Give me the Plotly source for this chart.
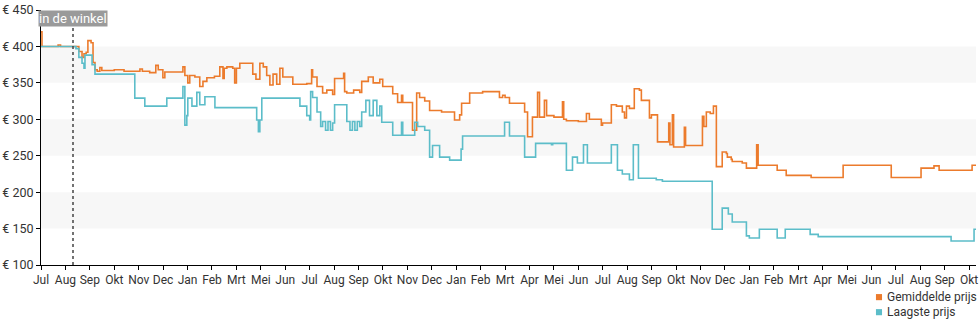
import plotly.graph_objects as go

# x positions are in months since the first tick (Jul)
month_labels = ["Jul", "Aug", "Sep", "Okt", "Nov", "Dec", "Jan", "Feb", "Mrt", "Mei", "Jun",
                "Jul", "Aug", "Sep", "Okt", "Nov", "Dec", "Jan", "Feb", "Mrt", "Apr", "Mei", "Jun",
                "Jul", "Aug", "Sep", "Okt", "Nov", "Dec", "Jan", "Feb", "Mrt", "Apr", "Mei", "Jun",
                "Jul", "Aug", "Sep", "Okt"]
month_ticks = list(range(len(month_labels)))

price_ticks = [100, 150, 200, 250, 300, 350, 400, 450]
price_labels = ["€ 100", "€ 150", "€ 200", "€ 250", "€ 300", "€ 350", "€ 400", "€ 450"]

avg_x = [0.00, 0.04, 0.70, 0.80, 1.43, 1.55, 1.68, 1.76, 1.85, 1.92, 2.05, 2.13, 2.21, 2.30,
         2.41, 2.49, 3.00, 3.40, 4.05, 4.15, 4.45, 4.70, 4.80, 4.99, 5.07, 5.81, 5.89, 6.01,
         6.09, 6.30, 6.50, 6.63, 6.79, 7.10, 7.32, 7.45, 7.50, 7.61, 7.85, 7.93, 8.00, 8.14,
         8.67, 8.80, 8.96, 9.10, 9.24, 9.37, 9.50, 9.65, 9.78, 9.90, 10.31, 10.88, 11.08, 11.12,
         11.30, 11.53, 11.70, 11.94, 12.02, 12.39, 12.43, 12.52, 12.80, 13.05, 13.13, 13.40,
         13.60, 13.87, 13.99, 14.40, 14.60, 14.76, 14.81, 15.21, 15.38, 15.50, 15.71, 15.91,
         16.40, 16.93, 17.14, 17.22, 17.55, 18.08, 18.24, 18.77, 18.90, 19.00, 19.18, 19.80,
         19.92, 20.12, 20.33, 20.41, 20.61, 20.70, 21.00, 21.35, 21.40, 21.51, 22.00, 22.33,
         22.45, 22.94, 22.99, 23.35, 23.56, 23.80, 23.89, 23.97, 24.09, 24.29, 24.50, 24.58,
         24.79, 24.91, 24.99, 25.24, 25.70, 25.75, 25.85, 25.90, 26.34, 26.39, 27.08, 27.14,
         27.24, 27.40, 27.53, 27.65, 27.89, 28.06, 28.10, 28.26, 28.30, 28.71, 28.88, 29.30,
         29.36, 30.14, 30.51, 31.53, 32.84, 34.81, 36.03, 36.56, 36.77, 38.12, 38.28]
avg_y = [420, 400, 402, 400, 400, 393, 385, 390, 392, 408, 405, 378, 368, 366,
         371, 367, 368, 366, 369, 366, 364, 374, 368, 357, 365, 372, 360, 350,
         360, 358, 345, 352, 357, 359, 372, 356, 370, 372, 370, 350, 370, 377,
         362, 355, 377, 372, 360, 347, 362, 348, 370, 358, 348, 349, 368, 358,
         345, 336, 340, 334, 356, 363, 338, 336, 340, 337, 352, 358,
         350, 355, 345, 335, 323, 333, 323, 285, 336, 330, 325, 312,
         310, 299, 306, 322, 336, 338, 338, 330, 333, 330, 322, 310,
         276, 303, 337, 303, 326, 305, 303, 324, 300, 298, 297, 308,
         300, 292, 295, 320, 318, 310, 302, 318, 315, 342, 340, 326,
         326, 302, 306, 269, 295, 265, 306, 262, 289, 264, 304, 290,
         310, 308, 318, 235, 255, 253, 248, 245, 242, 240, 233, 265,
         237, 230, 223, 220, 237, 220, 233, 236, 230, 237, 237]

low_x = [0.00, 1.43, 1.55, 1.68, 1.76, 1.80, 2.09, 2.21, 3.84, 4.25, 5.15, 5.81, 5.89, 5.97,
         6.01, 6.18, 6.38, 6.50, 6.71, 7.12, 8.83, 8.90, 8.96, 9.04, 10.31, 10.60, 10.88, 11.00,
         11.04, 11.12, 11.30, 11.45, 11.53, 11.65, 11.75, 11.85, 11.94, 12.02, 12.45, 12.52,
         12.65, 12.75, 12.85, 12.95, 13.05, 13.13, 13.30, 13.45, 13.60, 13.75, 13.87, 13.95,
         14.40, 14.76, 14.81, 15.30, 15.42, 15.71, 15.91, 16.03, 16.32, 16.73, 17.20, 17.26,
         18.98, 19.18, 19.80, 20.25, 20.90, 20.95, 21.51, 21.76, 21.96, 22.21, 22.37, 23.35,
         23.60, 23.80, 24.09, 24.25, 24.46, 25.19, 25.44, 27.48, 27.89, 28.14, 28.30, 28.88,
         29.00, 29.41, 30.14, 30.47, 31.49, 31.82, 37.26, 38.20, 38.28]
low_y = [400, 397, 385, 377, 370, 388, 375, 362, 329, 318, 329, 345, 292, 305,
         329, 318, 337, 320, 331, 316, 299, 283, 299, 329, 329, 318, 305, 299,
         338, 330, 310, 290, 297, 285, 297, 285, 295, 320, 320, 297,
         285, 297, 285, 297, 290, 310, 326, 305, 326, 305, 318, 296,
         278, 296, 278, 296, 290, 285, 248, 264, 248, 244, 259, 277,
         296, 277, 248, 267, 265, 267, 230, 248, 240, 265, 240, 265,
         230, 225, 217, 265, 219, 217, 215, 149, 178, 170, 159, 140,
         137, 149, 137, 149, 142, 139, 133, 149, 149]

series_names = ["Gemiddelde prijs", "Laagste prijs"]
instore_x = 1.31
instore_label = "in de winkel"

ORANGE = "#ec7b2c"
TEAL = "#5cbdc9"
TXT = "#333333"
colors = [ORANGE, TEAL]

fig = go.Figure()
fig.add_trace(go.Scatter(x=avg_x, y=avg_y, mode="lines", line=dict(color=ORANGE, width=1.6, shape="hv"),
                         showlegend=False, name=series_names[0]))
fig.add_trace(go.Scatter(x=low_x, y=low_y, mode="lines", line=dict(color=TEAL, width=1.6, shape="hv"),
                         showlegend=False, name=series_names[1]))

# alternating bands
for lo, hi in [(150, 200), (250, 300), (350, 400)]:
    fig.add_shape(type="rect", xref="paper", x0=0, x1=1, yref="y", y0=lo, y1=hi,
                  fillcolor="#f7f7f7", line=dict(width=0), layer="below")

fig.add_shape(type="line", xref="x", x0=instore_x, x1=instore_x, yref="paper", y0=0, y1=0.98,
              line=dict(color="#444444", width=1.5, dash="dot"))
fig.add_annotation(x=instore_x, xref="x", y=0.965, yref="paper", text=instore_label,
                   showarrow=False, font=dict(family="Roboto", size=13, color="white"),
                   bgcolor="#9a9a9a", borderpad=0, xanchor="center", yanchor="middle")

# legend (bottom right): coloured squares + labels
leg_y = [-0.126, -0.185]
for name, col, yy in zip(series_names, colors, leg_y):
    fig.add_shape(type="rect", xref="paper", yref="paper", x0=0.893, x1=0.8995,
                  y0=yy - 0.012, y1=yy + 0.012, fillcolor=col, line=dict(width=0))
    fig.add_annotation(x=0.9025, xref="paper", y=yy, yref="paper", text=name, showarrow=False,
                       xanchor="left", yanchor="middle", font=dict(family="Roboto", size=12, color=TXT))

fig.update_layout(
    width=980, height=325,
    margin=dict(l=41, r=4, t=10, b=60, autoexpand=False),
    paper_bgcolor="white", plot_bgcolor="white",
    font=dict(family="Roboto", size=12, color=TXT),
    showlegend=False,
    xaxis=dict(range=[0, 38.28], tickvals=month_ticks, ticktext=month_labels, showgrid=False,
               zeroline=False, showline=True, linecolor="black", linewidth=1,
               ticks="outside", ticklen=4, tickcolor="black", tickangle=0,
               tickfont=dict(size=12, color=TXT)),
    yaxis=dict(range=[100, 450], tickvals=price_ticks, ticktext=price_labels,
               showgrid=False, zeroline=False, showline=True, linecolor="black",
               linewidth=1, ticks="outside", ticklen=4, tickcolor="black",
               tickfont=dict(size=12.5, color=TXT)),
)

fig.write_html("out.html")
